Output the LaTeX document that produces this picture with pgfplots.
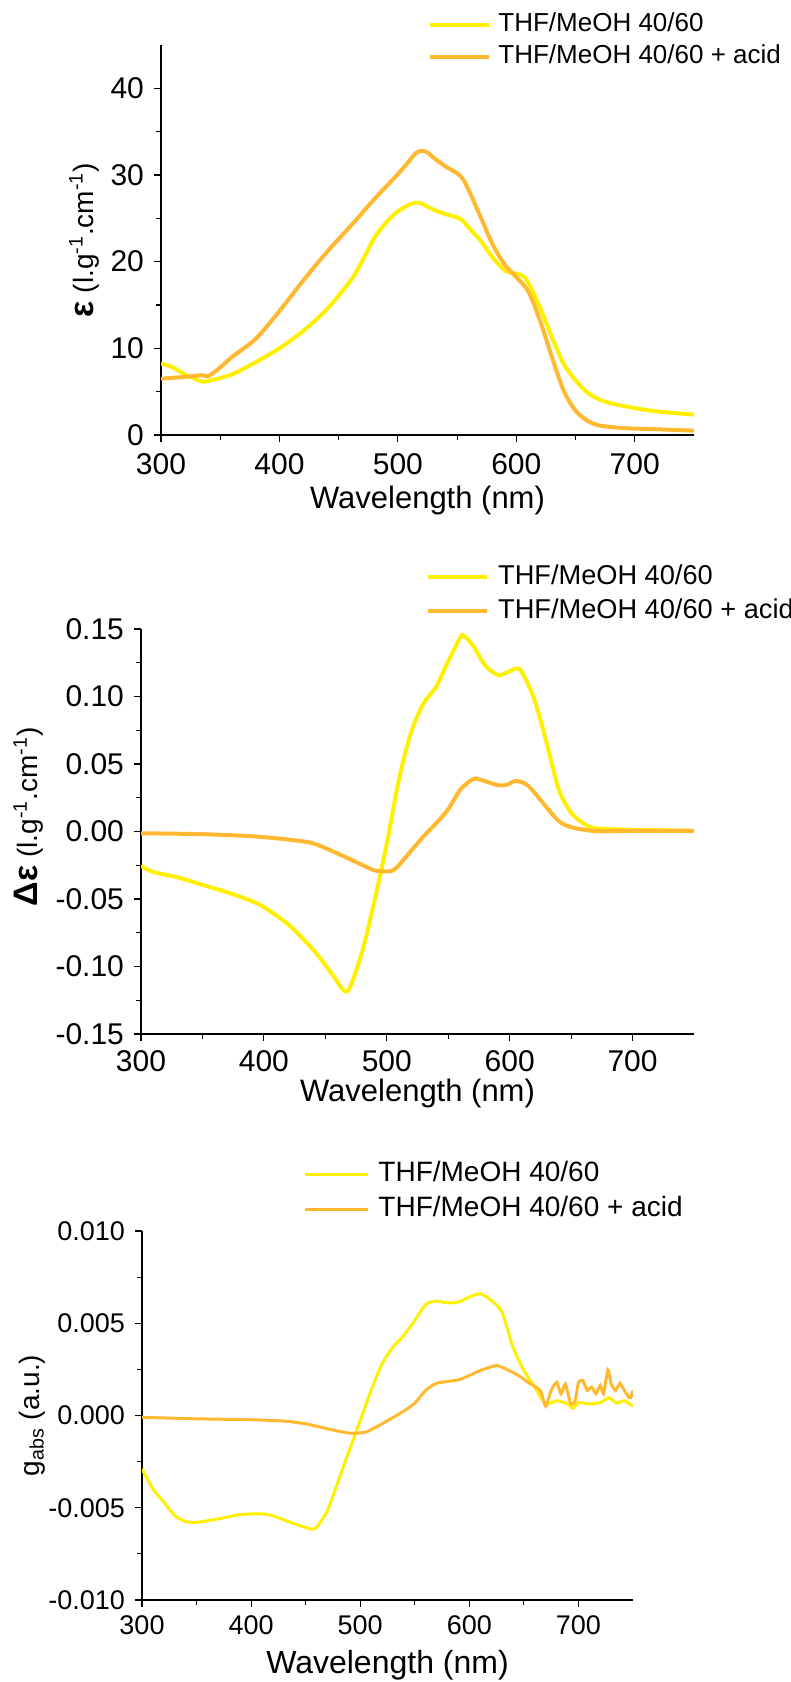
\documentclass[border=0pt]{standalone}
\usepackage{fontspec}
\setmainfont{Liberation Sans}
\usepackage{pgfplots}
\pgfplotsset{compat=1.18}
\definecolor{cyel}{RGB}{255,240,0}
\definecolor{corg}{RGB}{255,184,48}
\pgfplotsset{
  common/.style={
    scale only axis,
    anchor=south west,
    xmin=300, xmax=750,
    xtick={300,400,500,600,700},
    minor x tick num=1,
    axis x line*=bottom, axis y line*=left,
    axis line style={-, line width=0.6pt},
    tick style={black, line width=0.6pt},
    tick align=outside,
    major tick length=3.5pt, minor tick length=2.5pt,
    /pgf/number format/assume math mode=true,
    scaled ticks=false,
    legend cell align=left,
    legend image code/.code={\draw[#1] (0pt,0pt) -- (29.5pt,0pt);},
  },
}
\begin{document}
\begin{tikzpicture}
\useasboundingbox (0,0) rectangle (395.5pt,841pt);
% ---------------- Panel 1 ----------------
\begin{axis}[common,
  at={(80.5pt,623.5pt)}, width=266.5pt, height=195pt,
  ymin=0, ymax=45, ytick={0,10,20,30,40}, minor y tick num=1,
  tick label style={font=\fontsize{15}{18}\selectfont},
  yticklabel style={xshift=-1.5pt},
  xticklabel style={yshift=-2pt},
  xlabel={Wavelength (nm)},
  xlabel style={font=\fontsize{15.5}{18}\selectfont, at={(axis description cs:0.5,-0.169)}, anchor=center},
  ylabel={{\fontsize{17}{18}\selectfont\bfseries ε} (l.g\textsuperscript{-1}.cm\textsuperscript{-1})},
  ylabel style={font=\fontsize{14}{18}\selectfont, at={(axis description cs:-0.1445,0.5)}, anchor=center},
  legend style={draw=none, fill=none, at={(axis description cs:0.501,1.0103)}, anchor=west,
    inner sep=0pt, row sep=3pt, column sep=3.5pt,
    nodes={inner sep=0pt, text height=10pt, text depth=3pt, font=\fontsize{13}{15}\selectfont}},
]
\addplot[cyel, line width=2pt, smooth] coordinates {
(300,8.26)(310,7.8)(320,7.0)(330,6.4)(336,6.15)(345,6.4)(360,7.0)(380,8.4)(400,10.0)(420,12.0)(440,14.5)(460,17.8)(470,20.1)(480,22.7)(490,24.5)(500,25.8)(510,26.6)(515,26.8)(520,26.7)(530,26.0)(540,25.5)(550,25.1)(555,24.7)(560,23.9)(570,22.4)(580,20.5)(590,19.0)(600,18.6)(605,18.4)(610,17.6)(620,14.7)(630,11.3)(640,8.2)(650,6.3)(660,4.9)(670,4.1)(680,3.65)(700,3.1)(720,2.7)(750,2.35)
};
\addlegendentry{THF/MeOH 40/60}
\addplot[corg, line width=2pt, smooth] coordinates {
(300,6.5)(320,6.7)(335,6.9)(340,6.8)(350,7.8)(360,9.0)(380,11.1)(400,14.3)(420,17.8)(440,21.1)(460,24.1)(480,27.2)(500,30.1)(510,31.7)(515,32.5)(520,32.8)(525,32.6)(530,32.0)(540,31.0)(550,30.2)(555,29.5)(560,28.2)(570,25.1)(580,22.0)(590,19.7)(600,18.2)(610,16.6)(620,13.2)(630,9.0)(640,5.1)(650,2.8)(660,1.65)(670,1.1)(690,0.8)(720,0.65)(750,0.5)
};
\addlegendentry{THF/MeOH 40/60 + acid}
\end{axis}
% ---------------- Panel 2 ----------------
\begin{axis}[common,
  at={(70.5pt,324pt)}, width=276.5pt, height=202.5pt,
  ymin=-0.15, ymax=0.15, ytick={-0.15,-0.10,-0.05,0,0.05,0.10,0.15}, minor y tick num=1,
  yticklabel style={/pgf/number format/fixed, /pgf/number format/fixed zerofill, /pgf/number format/precision=2, xshift=-1.5pt},
  tick label style={font=\fontsize{15}{18}\selectfont},
  xticklabel style={yshift=-1pt},
  xlabel={Wavelength (nm)},
  xlabel style={font=\fontsize{15.5}{18}\selectfont, at={(axis description cs:0.5,-0.146)}, anchor=center},
  ylabel={{\fontsize{17}{18}\selectfont\bfseries Δε} (l.g\textsuperscript{-1}.cm\textsuperscript{-1})},
  ylabel style={font=\fontsize{14}{18}\selectfont, at={(axis description cs:-0.204,0.536)}, anchor=center},
  legend style={draw=none, fill=none, at={(axis description cs:0.515,1.0864)}, anchor=west,
    inner sep=0pt, row sep=4pt, column sep=4.5pt,
    nodes={inner sep=0pt, text height=10pt, text depth=3pt, font=\fontsize{13.6}{15}\selectfont}},
]
\addplot[cyel, line width=2pt, smooth] coordinates {
(300,-0.0254)(310,-0.030)(330,-0.034)(350,-0.0395)(370,-0.045)(390,-0.0515)(400,-0.056)(420,-0.069)(440,-0.0875)(455,-0.105)(465,-0.1177)(470,-0.1155)(480,-0.089)(490,-0.0515)(500,-0.009)(510,0.039)(520,0.074)(530,0.095)(540,0.107)(550,0.126)(560,0.144)(563,0.1447)(570,0.138)(580,0.123)(590,0.116)(595,0.1166)(605,0.1206)(610,0.118)(620,0.098)(630,0.066)(640,0.031)(650,0.014)(660,0.006)(670,0.0024)(700,0.0013)(750,0.0005)
};
\addlegendentry{THF/MeOH 40/60}
\addplot[corg, line width=2pt, smooth] coordinates {
(300,-0.0013)(350,-0.002)(390,-0.0035)(420,-0.006)(440,-0.0088)(460,-0.0163)(480,-0.0248)(490,-0.0288)(500,-0.0296)(505,-0.0288)(510,-0.0248)(520,-0.0141)(530,-0.0035)(540,0.0059)(550,0.0165)(560,0.0312)(570,0.0387)(575,0.0387)(590,0.0344)(598,0.0347)(605,0.0374)(615,0.0339)(630,0.0179)(640,0.0077)(650,0.0032)(670,0.0003)(700,0.0005)(750,0.0005)
};
\addlegendentry{THF/MeOH 40/60 + acid}
\end{axis}
% ---------------- Panel 3 ----------------
\begin{axis}[common,
  at={(71pt,41pt)}, width=245.5pt, height=184.5pt,
  ymin=-0.010, ymax=0.010, ytick={-0.010,-0.005,0,0.005,0.010}, minor y tick num=1,
  yticklabel style={/pgf/number format/fixed, /pgf/number format/fixed zerofill, /pgf/number format/precision=3, xshift=-1.5pt},
  tick label style={font=\fontsize{13.5}{16}\selectfont},
  xticklabel style={yshift=-1pt},
  xlabel={Wavelength (nm)},
  xlabel style={font=\fontsize{16}{18}\selectfont, at={(axis description cs:0.5,-0.176)}, anchor=center},
  ylabel={g\textsubscript{abs} (a.u.)},
  ylabel style={font=\fontsize{14}{18}\selectfont, at={(axis description cs:-0.224,0.5)}, anchor=center},
  legend style={draw=none, fill=none, at={(axis description cs:0.328,1.106)}, anchor=west,
    inner sep=0pt, row sep=4.25pt, column sep=4.5pt,
    nodes={inner sep=0pt, text height=10pt, text depth=3pt, font=\fontsize{14}{16}\selectfont}},
  legend image code/.code={\draw[#1] (0pt,0pt) -- (31.5pt,0pt);},
]
\addplot[cyel, line width=1.5pt, smooth, tension=0.4] coordinates {
(300,-0.00289)(310,-0.00398)(320,-0.0047)(330,-0.00542)(340,-0.00575)(350,-0.00579)(370,-0.0056)(390,-0.00537)(410,-0.00533)(420,-0.00544)(440,-0.00588)(455,-0.00615)(460,-0.00606)(470,-0.00515)(480,-0.00353)(490,-0.0019)(500,-0.00027)(510,0.00136)(520,0.0028)(530,0.0037)(540,0.00434)(550,0.00515)(560,0.00602)(570,0.0062)(580,0.0061)(590,0.00615)(600,0.00642)(610,0.0066)(620,0.00624)(630,0.0056)(640,0.0037)(650,0.00244)(660,0.00154)(670,0.00063)(680,0.0008)(690,0.00063)(695,0.0004)(700,0.0007)(710,0.00063)(720,0.0007)(728,0.00096)(735,0.00067)(742,0.0008)(750,0.0005)
};
\addlegendentry{THF/MeOH 40/60}
\addplot[corg, line width=1.5pt, smooth, tension=0.3] coordinates {
(300,-0.0001)(350,-0.00018)(400,-0.00023)(430,-0.0003)(450,-0.00045)(470,-0.00072)(490,-0.00096)(505,-0.0009)(520,-0.00045)(540,0.00024)(550,0.00067)(560,0.00136)(570,0.00175)(590,0.00193)(600,0.00217)(610,0.00244)(625,0.00271)(635,0.00248)(645,0.00217)(655,0.00175)(665,0.00136)(670,0.0005)(675,0.00136)(680,0.0018)(684,0.00118)(688,0.0017)(693,0.00063)(697,0.0008)(700,0.0018)(704,0.0019)(708,0.00136)(712,0.00154)(716,0.00118)(720,0.00163)(723,0.00118)(727,0.00248)(730,0.0017)(734,0.00136)(738,0.00175)(742,0.00136)(746,0.001)(748,0.00096)(750,0.00136)
};
\addlegendentry{THF/MeOH 40/60 + acid}
\end{axis}
\end{tikzpicture}
\end{document}
